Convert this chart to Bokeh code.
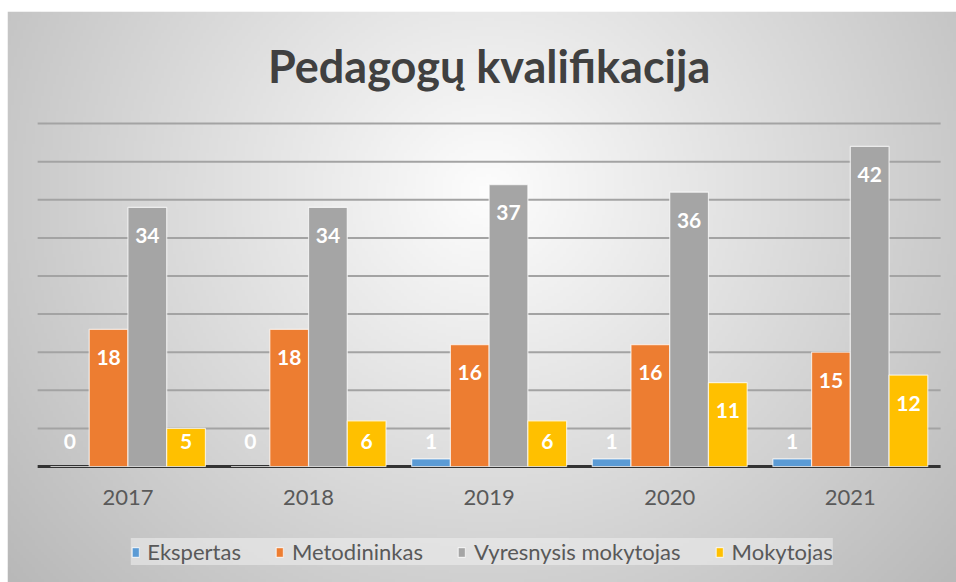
import numpy as np
from bokeh.plotting import figure
from bokeh.models import ColumnDataSource, Range1d, Legend, LegendItem
from bokeh.core.properties import value
from bokeh.transform import dodge
from bokeh.embed import file_html
from bokeh.resources import INLINE

# ---------------- data ----------------
title_text = "Pedagogų kvalifikacija"
years = ["2017", "2018", "2019", "2020", "2021"]
series_names = ["Ekspertas", "Metodininkas", "Vyresnysis mokytojas", "Mokytojas"]
ekspertas = [0, 0, 1, 1, 1]
metodininkas = [18, 18, 16, 16, 15]
vyresnysis = [34, 34, 37, 36, 42]
mokytojas = [5, 6, 6, 11, 12]
grid_values = [5, 10, 15, 20, 25, 30, 35, 40, 45]
colors = ["#5b9bd5", "#ed7d31", "#a5a5a5", "#ffc000"]

# ---------------- layout ----------------
W, H = 956, 582
BL, BT = 7, 11
FW, FH = W - BL, H - BT
x_start, x_end = -0.667, 4.588
y_start, y_end = -15.22, 59.71
px_y = FH / (y_end - y_start)

FONT = "Lato"
TXT = "#595959"

p = figure(width=W, height=H, output_backend="svg", toolbar_location=None,
           x_range=Range1d(x_start, x_end), y_range=Range1d(y_start, y_end),
           x_axis_type=None, y_axis_type=None,
           min_border_left=BL, min_border_top=BT, min_border_right=0, min_border_bottom=0)
p.border_fill_color = "white"
p.outline_line_color = None
p.grid.visible = False

# ---------------- radial gradient background ----------------
step = 3
gw, gh = FW // step, FH // step
X, Y = np.meshgrid(np.arange(gw) * step + BL, np.arange(gh) * step + BT)
u = (X - 485) / 475.0
v = (Y - 190) / 450.0
r = np.sqrt(u ** 2 + v ** 2)
g = np.clip(253 - 52 * r, 0, 255).astype(np.uint8)
img = np.empty((gh, gw), dtype=np.uint32)
view = img.view(dtype=np.uint8).reshape((gh, gw, 4))
view[..., 0] = g
view[..., 1] = g
view[..., 2] = g
view[..., 3] = 255
img = img[::-1].copy()
p.image_rgba(image=[img], x=x_start, y=y_start, dw=x_end - x_start, dh=y_end - y_start)

# ---------------- grid lines ----------------
xs = list(range(len(years)))
gsrc = ColumnDataSource(dict(y=grid_values,
                             x0=[-0.5] * len(grid_values),
                             x1=[len(years) - 0.5] * len(grid_values)))
p.segment(x0="x0", x1="x1", y0="y", y1="y", source=gsrc, line_color="#a3a3a3", line_width=2)
p.segment(x0=[-0.5], x1=[len(years) - 0.5], y0=[0], y1=[0], line_color="#333333", line_width=3)

# ---------------- bars ----------------
bw = 0.2145
series = [ekspertas, metodininkas, vyresnysis, mokytojas]
offsets = [-1.5 * bw, -0.5 * bw, 0.5 * bw, 1.5 * bw]
items = []
for name, vals, col, off in zip(series_names, series, colors, offsets):
    lab_y = [max(val - 28 / px_y, 25 / px_y) for val in vals]
    src = ColumnDataSource(dict(x=xs, top=vals, lab=[str(val) for val in vals], ly=lab_y))
    rr = p.vbar(x=dodge("x", off), top="top", bottom=0, width=bw, source=src,
                fill_color=col, line_color="white", line_width=1.2, line_alpha=0.7)
    p.text(x=dodge("x", off), y="ly", text="lab", source=src,
           text_font=value(FONT), text_font_style="bold", text_font_size="21px",
           text_color="white", text_align="center", text_baseline="middle")
    items.append(LegendItem(label=name, renderers=[rr]))

# ---------------- category labels ----------------
ysrc = ColumnDataSource(dict(x=xs, t=years, y=[-31 / px_y] * len(years)))
p.text(x="x", y="y", text="t", source=ysrc, text_font=value(FONT), text_font_size="22px",
       text_color=TXT, text_align="center", text_baseline="middle")

# ---------------- title ----------------
p.text(x=[(len(years) - 1) / 2], y=[y_end - (65 - BT) / px_y], text=[title_text],
       text_font=value(FONT), text_font_style="bold", text_font_size="45px",
       text_color="#404040", text_align="center", text_baseline="middle")

# ---------------- legend ----------------
legend = Legend(items=items, location="bottom_center", orientation="horizontal",
                label_text_font=FONT, label_text_font_size="22px", label_text_color=TXT,
                glyph_width=9, glyph_height=12, label_standoff=8, spacing=34,
                padding=9, margin=17,
                background_fill_color="#ececec", background_fill_alpha=0.6,
                border_line_color=None)
p.add_layout(legend, "center")

open("out.html", "w").write(file_html(p, INLINE))
